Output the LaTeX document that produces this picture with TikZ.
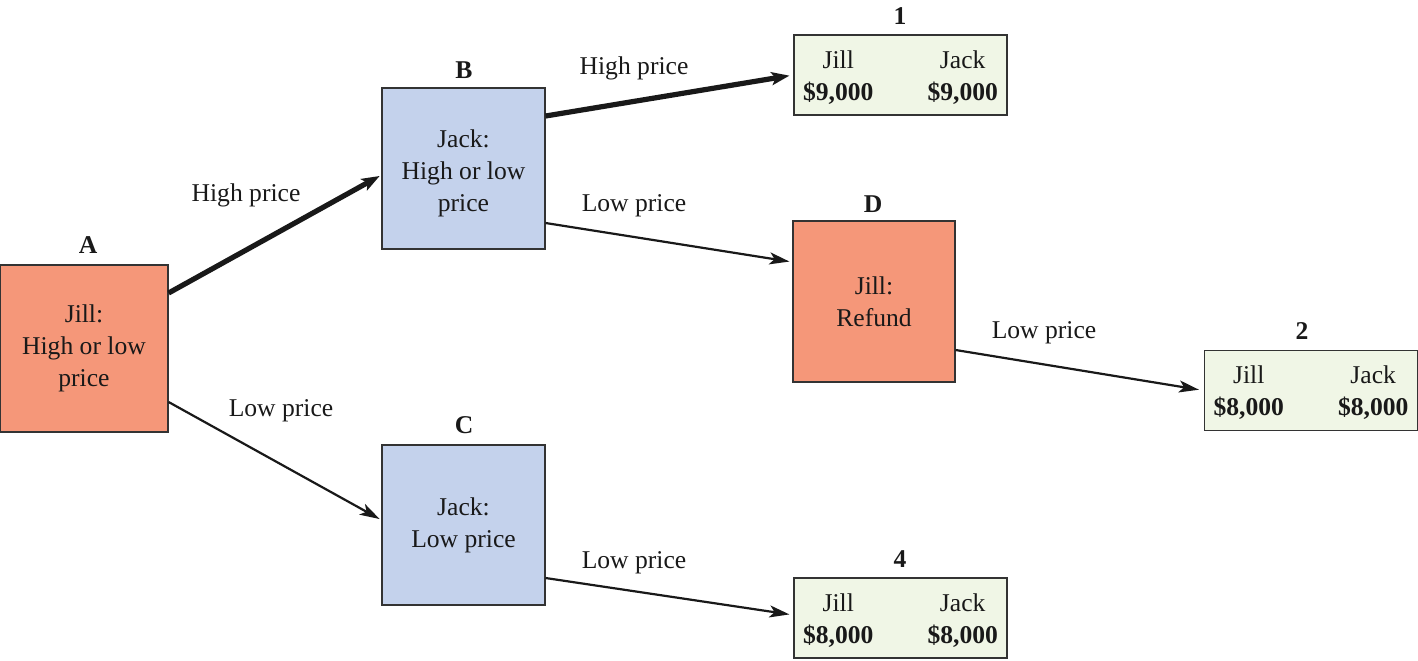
\documentclass[tikz,border=0pt]{standalone}
\usepackage{fontspec}
\setmainfont{Liberation Serif}
\usetikzlibrary{arrows.meta}
\definecolor{jillc}{HTML}{F59779}
\definecolor{jackc}{HTML}{C4D2EC}
\definecolor{payc}{HTML}{F0F6E6}
\definecolor{edgec}{HTML}{333333}
\newcommand{\lowerby}[2]{\raisebox{-#1}[\height][\depth]{#2}}
\newcommand{\paytab}[2]{\lowerby{1.5pt}{\begin{tabular}{@{}c@{\hspace{27pt}}c@{}}Jill & Jack\\\textbf{#1} & \textbf{#2}\end{tabular}}}
\begin{document}
\begin{tikzpicture}[x=0.5pt,y=-0.5pt,
  every node/.style={font=\fontsize{12.8}{16}\selectfont, text=black!90},
  box/.style={draw=edgec, line width=0.6pt, inner sep=0pt, align=center},
  jill/.style={box, fill=jillc},
  jack/.style={box, fill=jackc},
  pay/.style={box, fill=payc, minimum width=106.5pt, minimum height=40pt},
  tag/.style={font=\fontsize{12.8}{16}\selectfont\bfseries},
  lab/.style={},
  arr/.style={draw=black!90, line width=1.1pt, -{Stealth[length=10pt,width=6pt,inset=2.5pt]}},
  thick arr/.style={draw=black!90, line width=2.6pt, -{Stealth[length=9pt,width=6.5pt,inset=2pt]}}
]
\useasboundingbox (0,0) rectangle (1418,660);
% decision boxes
\node[jill, minimum width=84pt, minimum height=83.5pt] (A) at (84,348.5) {Jill:\\High or low\\price};
\node[jack, minimum width=81.5pt, minimum height=80.5pt] (B) at (463.5,168.5) {\lowerby{2.5pt}{\begin{tabular}{@{}c@{}}Jack:\\High or low\\price\end{tabular}}};
\node[jack, minimum width=81.5pt, minimum height=80pt] (C) at (463.5,525) {Jack:\\Low price};
\node[jill, minimum width=81pt, minimum height=80.5pt] (D) at (874,301.5) {Jill:\\Refund};
% payoff boxes
\node[pay] (P1) at (900.5,75) {\paytab{\$9,000}{\$9,000}};
\node[pay] (P2) at (1311,390.5) {\paytab{\$8,000}{\$8,000}};
\node[pay] (P4) at (900.5,618) {\paytab{\$8,000}{\$8,000}};
% tags
\node[tag] (tA) at (88,245) {A};
\node[tag] (tB) at (464,70) {B};
\node[tag] (tC) at (464,425) {C};
\node[tag] (tD) at (873,204) {D};
\node[tag] (t1) at (900,16) {1};
\node[tag] (t2) at (1302,331) {2};
\node[tag] (t4) at (900,559) {4};
% connectors
\draw[thick arr, shorten >=1pt] ([yshift=27.75pt]A.east) -- ([yshift=-3.25pt]B.west);
\draw[arr, shorten >=1pt] ([yshift=-26.75pt]A.east) -- ([yshift=2.5pt]C.west);
\draw[thick arr, shorten >=2pt] ([yshift=26.25pt]B.east) -- (P1.west);
\draw[arr, shorten >=1.5pt] ([yshift=-27.25pt]B.east) -- ([yshift=19.75pt]D.west);
\draw[arr, shorten >=2.5pt] ([yshift=-24.25pt]D.east) -- (P2.west);
\draw[arr, shorten >=2pt] ([yshift=-26.5pt]C.east) -- ([yshift=1.5pt]P4.west);
% edge labels
\node[lab] (l1) at (246,195) {High price};
\node[lab] (l2) at (281,411) {Low price};
\node[lab] (l3) at (634,68) {High price};
\node[lab] (l4) at (634,206) {Low price};
\node[lab] (l5) at (1044,333) {Low price};
\node[lab] (l6) at (634,563) {Low price};
\end{tikzpicture}
\end{document}
